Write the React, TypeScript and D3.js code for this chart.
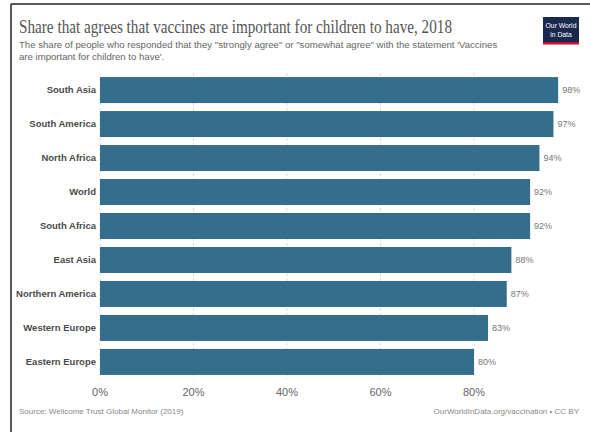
import React from "react";
import * as d3 from "d3";

const categories = ["South Asia", "South America", "North Africa", "World", "South Africa", "East Asia", "Northern America", "Western Europe", "Eastern Europe"];
const values = [98, 97, 94, 92, 92, 88, 87, 83, 80];
const tickValues = [0, 20, 40, 60, 80];

const W = 590, H = 432;

export default function App() {
  const x = d3.scaleLinear().domain([0, 100]).range([100, 567.5]);
  const y = d3.scaleBand().domain(categories).range([73, 379]).paddingInner(0.235).paddingOuter(0.12);
  const sans = "'Liberation Sans', Arial, sans-serif";
  return (
    <svg width={W} height={H} style={{ position: "absolute", left: 0, top: 0, background: "#fff" }}>
      <rect x={0} y={0} width={W} height={H} fill="#fff" />
      <line x1={11} y1={4} x2={W} y2={4} stroke="#222" strokeWidth={1.5} />
      <line x1={11} y1={4} x2={11} y2={H} stroke="#222" strokeWidth={1.5} />
      <text x={19} y={33} fontFamily="'Liberation Serif', 'DejaVu Serif', serif" fontSize={18.5} fill="#555" textLength={433} lengthAdjust="spacingAndGlyphs">Share that agrees that vaccines are important for children to have, 2018</text>
      <text x={19} y={48} fontFamily={sans} fontSize={9.6} fill="#666">The share of people who responded that they "strongly agree" or "somewhat agree" with the statement 'Vaccines</text>
      <text x={19} y={60} fontFamily={sans} fontSize={9.6} fill="#666">are important for children to have'.</text>
      <g>
        <rect x={543} y={17} width={36} height={27} fill="#1a2a4f" />
        <rect x={543} y={42} width={36} height={2.5} fill="#c8102e" />
        <text x={561} y={28} textAnchor="middle" fontFamily={sans} fontSize={6.8} fill="#fff">Our World</text>
        <text x={561} y={37} textAnchor="middle" fontFamily={sans} fontSize={6.8} fill="#fff">in Data</text>
      </g>
      {tickValues.map((t) => (
        <line key={"g" + t} x1={x(t)} x2={x(t)} y1={73} y2={379} stroke="#ddd" strokeDasharray="3,2" />
      ))}
      {categories.map((c, i) => (
        <g key={c}>
          <rect x={x(0)} y={y(c)} width={x(values[i]) - x(0)} height={y.bandwidth()} fill="#356d8c" />
          <text x={96} y={(y(c) as number) + y.bandwidth() / 2} dy="0.35em" textAnchor="end" fontFamily={sans} fontSize={9.5} fontWeight="bold" fill="#4a4a4a">{c}</text>
          <text x={x(values[i]) + 4} y={(y(c) as number) + y.bandwidth() / 2} dy="0.35em" fontFamily={sans} fontSize={9} fill="#777">{values[i] + "%"}</text>
        </g>
      ))}
      {tickValues.map((t) => (
        <text key={"t" + t} x={x(t)} y={396} textAnchor="middle" fontFamily={sans} fontSize={11} fill="#666">{t + "%"}</text>
      ))}
      <text x={19} y={414} fontFamily={sans} fontSize={8} fill="#888">Source: Wellcome Trust Global Monitor (2019)</text>
      <text x={579} y={414} textAnchor="end" fontFamily={sans} fontSize={8} fill="#888">OurWorldInData.org/vaccination • CC BY</text>
    </svg>
  );
}
